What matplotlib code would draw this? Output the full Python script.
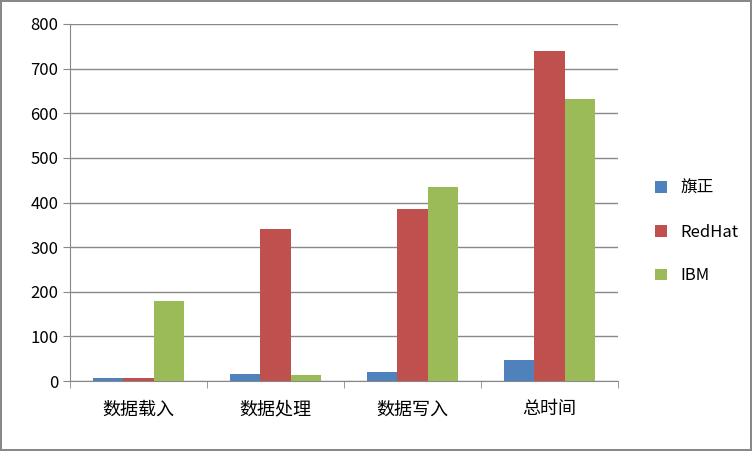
import matplotlib
matplotlib.use("Agg")
import matplotlib.pyplot as plt
import numpy as np

plt.rcParams['font.family'] = ['Noto Sans CJK SC', 'DejaVu Sans']

categories = ["数据载入", "数据处理", "数据写入", "总时间"]
series_names = ["旗正", "RedHat", "IBM"]
qizheng = [7, 16, 20, 47]
redhat = [7, 341, 386, 740]
ibm = [179, 14, 435, 632]
colors = ["#4F81BD", "#C0504D", "#9BBB59"]

fig = plt.figure(figsize=(7.52, 4.51), dpi=100)
fig.patch.set_edgecolor("#888888")
fig.patch.set_linewidth(1.5)
ax = fig.add_axes([70/752, 1-381/451, 548/752, 357/451])

x = np.arange(len(categories))
w = 0.22
for i, (vals, name) in enumerate(zip([qizheng, redhat, ibm], series_names)):
    ax.bar(x + (i-1)*w, vals, w, color=colors[i], label=name, zorder=3)

ax.set_xlim(-0.5, 3.5)
ax.set_ylim(0, 800)
ax.set_yticks(range(0, 801, 100))
ax.yaxis.grid(True, color="#888888", linewidth=1, zorder=0)
ax.set_xticks(x)
ax.set_xticklabels(categories, fontsize=13)
ax.set_xticks(np.arange(-0.5, 4, 1), minor=True)
ax.tick_params(axis='x', which='major', length=0, pad=14)
ax.tick_params(axis='x', which='minor', length=5, color="#888888")
ax.tick_params(axis='y', labelsize=12, length=5, color="#888888")
for s in ["top", "right"]:
    ax.spines[s].set_visible(False)
for s in ["left", "bottom"]:
    ax.spines[s].set_color("#888888")

fig.legend(loc="center left", bbox_to_anchor=(640/752, 1-232/451), frameon=False,
           fontsize=12, handlelength=0.7, handleheight=0.7, labelspacing=1.6)
fig.savefig("out.png", dpi=100, edgecolor=fig.get_edgecolor())
